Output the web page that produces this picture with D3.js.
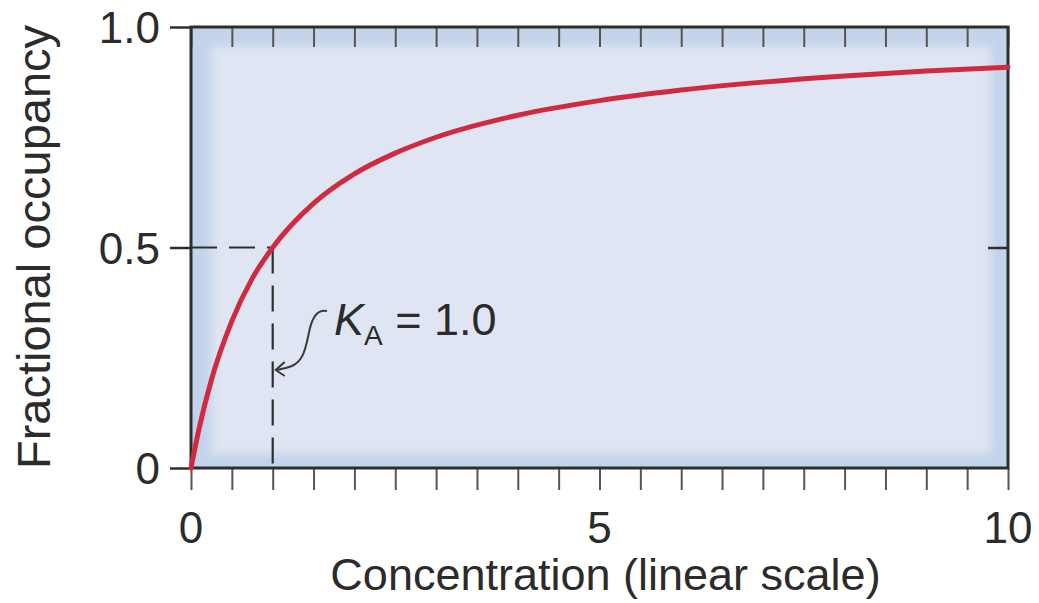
<!DOCTYPE html>
<html>
<head>
<meta charset="utf-8">
<script src="https://cdn.jsdelivr.net/npm/d3@7"></script>
<style>
  html, body { margin: 0; padding: 0; background: #ffffff; }
  svg { display: block; }
  text { font-family: "Liberation Sans", Arial, Helvetica, sans-serif; fill: #2b2b2b; }
</style>
</head>
<body>
<svg id="chart" width="1039" height="603"></svg>
<script>
// ---- data ----
const concentration = [0, 0.1, 0.25, 0.5, 0.75, 1, 1.5, 2, 2.5, 3, 4, 5, 6, 7, 8, 9, 10];
const occupancy     = [0, 0.09, 0.2, 0.333, 0.43, 0.5, 0.6, 0.667, 0.714, 0.75, 0.8, 0.833, 0.857, 0.875, 0.889, 0.9, 0.909];
const xTickValues = [0, 5, 10];
const xTickLabels = ["0", "5", "10"];
const yTickValues = [0, 0.5, 1.0];
const yTickLabels = ["0", "0.5", "1.0"];
const kA = 1.0;
const halfOccupancy = 0.5;
const xTitle = "Concentration (linear scale)";
const yTitle = "Fractional occupancy";

// ---- layout ----
const svg = d3.select("#chart");
const pLeft = 191, pRight = 1008, pTop = 27, pBottom = 468;
const x = d3.scaleLinear().domain([0, 10]).range([pLeft, pRight]);
const y = d3.scaleLinear().domain([0, 1]).range([pBottom, pTop]);
const axisColor = "#2e2e2e";

// background
const defs = svg.append("defs");
const blur = defs.append("filter").attr("id", "soft").attr("x", "-10%").attr("y", "-10%").attr("width", "120%").attr("height", "120%");
blur.append("feGaussianBlur").attr("stdDeviation", 5);
const clip = defs.append("clipPath").attr("id", "plotclip");
clip.append("rect").attr("x", pLeft).attr("y", pTop).attr("width", pRight - pLeft).attr("height", pBottom - pTop);

const bg = svg.append("g").attr("clip-path", "url(#plotclip)");
bg.append("rect").attr("x", pLeft).attr("y", pTop).attr("width", pRight - pLeft).attr("height", pBottom - pTop).attr("fill", "#c3d3ea");
bg.append("rect").attr("x", pLeft + 20).attr("y", pTop + 19).attr("width", pRight - pLeft - 37).attr("height", pBottom - pTop - 33)
  .attr("fill", "#dfe5f2").attr("filter", "url(#soft)");

// bottom axis (ticks outward)
const xMinor = d3.range(0, 10.001, 0.5);
svg.append("g").attr("transform", `translate(0,${pBottom})`)
  .call(d3.axisBottom(x).tickValues(xMinor).tickSize(22).tickFormat(""))
  .call(g => g.select(".domain").remove())
  .call(g => g.selectAll("line").attr("stroke", "#555").attr("stroke-width", 2));
// top axis (ticks inward)
svg.append("g").attr("transform", `translate(0,${pTop})`)
  .call(d3.axisBottom(x).tickValues(xMinor).tickSize(20).tickFormat(""))
  .call(g => g.select(".domain").remove())
  .call(g => g.selectAll("line").attr("stroke", "#555").attr("stroke-width", 2));
// left axis ticks (outward)
svg.append("g").attr("transform", `translate(${pLeft},0)`)
  .call(d3.axisLeft(y).tickValues(yTickValues).tickSize(21).tickFormat(""))
  .call(g => g.select(".domain").remove())
  .call(g => g.selectAll("line").attr("stroke", axisColor).attr("stroke-width", 2.5));
// right axis tick at 0.5 (inward)
svg.append("g").attr("transform", `translate(${pRight},0)`)
  .call(d3.axisRight(y).tickValues([halfOccupancy]).tickSize(-20).tickFormat(""))
  .call(g => g.select(".domain").remove())
  .call(g => g.selectAll("line").attr("stroke", axisColor).attr("stroke-width", 2.5));

// frame
svg.append("rect").attr("x", pLeft).attr("y", pTop).attr("width", pRight - pLeft).attr("height", pBottom - pTop)
  .attr("fill", "none").attr("stroke", axisColor).attr("stroke-width", 3);

// tick labels
svg.selectAll(".xlab").data(xTickValues).join("text").attr("class", "xlab")
  .attr("x", d => x(d)).attr("y", 543).attr("text-anchor", "middle")
  .attr("font-size", 44).text((d, i) => xTickLabels[i]);
svg.selectAll(".ylab").data(yTickValues).join("text").attr("class", "ylab")
  .attr("x", 160).attr("y", d => y(d) + 16).attr("text-anchor", "end")
  .attr("font-size", 44).text((d, i) => yTickLabels[i]);

// titles
svg.append("text").attr("x", (pLeft + pRight) / 2 + 6).attr("y", 590).attr("text-anchor", "middle")
  .attr("font-size", 45).text(xTitle);
svg.append("text").attr("transform", "translate(50,247) rotate(-90)").attr("text-anchor", "middle")
  .attr("font-size", 47).text(yTitle);

// dashed guide lines
const dash = "26,12";
svg.append("line").attr("x1", x(0)).attr("x2", x(kA)).attr("y1", y(halfOccupancy)).attr("y2", y(halfOccupancy))
  .attr("stroke", axisColor).attr("stroke-width", 2.2).attr("stroke-dasharray", dash);
svg.append("line").attr("x1", x(kA)).attr("x2", x(kA)).attr("y1", y(halfOccupancy)).attr("y2", y(0))
  .attr("stroke", axisColor).attr("stroke-width", 2.2).attr("stroke-dasharray", dash);

// binding curve
const pts = concentration.map((c, i) => [c, occupancy[i]]);
svg.append("path").datum(pts)
  .attr("d", d3.line().x(d => x(d[0])).y(d => y(d[1])).curve(d3.curveMonotoneX))
  .attr("fill", "none").attr("stroke", "#d02a40").attr("stroke-width", 5).attr("stroke-linecap", "round");

// annotation K_A = 1.0
const ax = x(kA);
const ann = svg.append("text").attr("x", 334).attr("y", 335).attr("font-size", 45);
ann.append("tspan").attr("font-style", "italic").text("K");
ann.append("tspan").attr("font-size", 28).attr("dy", 10).text("A");
ann.append("tspan").attr("dy", -10).text(" = 1.0");

// curved arrow
svg.append("path")
  .attr("d", `M327,311 C318,309 313,316 310,328 C306,345 305,360 292,366 C287,368 283,369 ${ax + 4},370`)
  .attr("fill", "none").attr("stroke", "#3a3a3a").attr("stroke-width", 2);
svg.append("path")
  .attr("d", `M${ax + 12},362 L${ax + 3},370 L${ax + 12},376`)
  .attr("fill", "none").attr("stroke", "#3a3a3a").attr("stroke-width", 2);
</script>
</body>
</html>
